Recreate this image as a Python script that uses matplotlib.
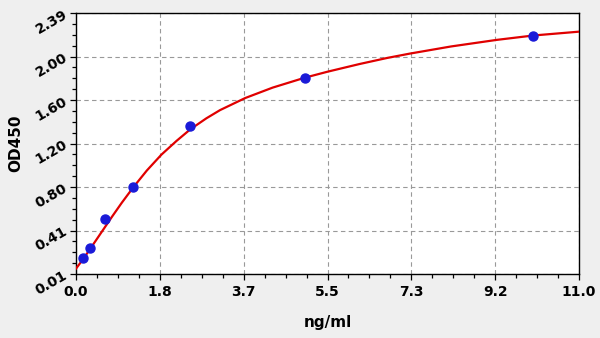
import matplotlib
matplotlib.use("Agg")
import matplotlib.pyplot as plt
from matplotlib.ticker import AutoMinorLocator

# standard points (ng/ml, OD450)
conc = [0.156, 0.3125, 0.625, 1.25, 2.5, 5.0, 10.0]
od = [0.16, 0.25, 0.51, 0.80, 1.36, 1.80, 2.18]

# fitted curve
curve_x = [0.0, 0.17, 0.35, 0.57, 0.79, 1.0, 1.25, 1.55, 1.87, 2.2, 2.5, 2.85,
           3.15, 3.7, 4.3, 5.0, 5.5, 6.2, 6.8, 7.3, 8.2, 9.2, 10.0, 11.0]
curve_y = [0.06, 0.155, 0.265, 0.40, 0.535, 0.66, 0.80, 0.955, 1.10, 1.225, 1.33, 1.43,
           1.505, 1.615, 1.71, 1.80, 1.855, 1.925, 1.98, 2.02, 2.085, 2.145, 2.185, 2.22]

xticks = [0.0, 1.8, 3.7, 5.5, 7.3, 9.2, 11.0]
yticks = [0.01, 0.41, 0.80, 1.20, 1.60, 2.00, 2.39]

fig = plt.figure(figsize=(6, 3.38), dpi=100, facecolor="#efefef")
ax = fig.add_axes([0.1267, 0.189, 0.8383, 0.7725])
ax.set_facecolor("white")

ax.plot(curve_x, curve_y, color="#e00000", lw=1.6, zorder=3)
ax.plot(conc, od, "o", color="#1a1ad8", ms=6.5, zorder=4)

ax.set_xlim(0, 11.0)
ax.set_ylim(0.01, 2.39)
# ticks are evenly spaced; labels are rounded values
xt = [i * 11.0 / 6 for i in range(7)]
yt = [0.01 + i * 2.38 / 6 for i in range(7)]
ax.set_xticks(xt)
ax.set_xticklabels(["%.1f" % v for v in xticks], fontsize=10, fontweight="bold")
ax.set_yticks(yt)
ax.set_yticklabels(["%.2f" % v for v in yticks], fontsize=10, fontweight="bold",
                   rotation=30, ha="right", va="center", rotation_mode="anchor")
ax.xaxis.set_minor_locator(AutoMinorLocator(4))
ax.yaxis.set_minor_locator(AutoMinorLocator(4))
ax.tick_params(which="major", direction="out", length=4, width=0.9, colors="black")
ax.tick_params(which="minor", direction="out", length=3, width=0.9)
ax.tick_params(axis="y", pad=3)

ax.grid(True, which="major", ls=(0, (4, 3)), color="#999999", lw=0.8)
for s in ax.spines.values():
    s.set_color("black")
    s.set_linewidth(1.0)

ax.set_xlabel("ng/ml", fontsize=11, fontweight="bold", labelpad=12)
ax.set_ylabel("OD450", fontsize=11, fontweight="bold", labelpad=7)

fig.savefig("out.png", dpi=100, facecolor=fig.get_facecolor())
